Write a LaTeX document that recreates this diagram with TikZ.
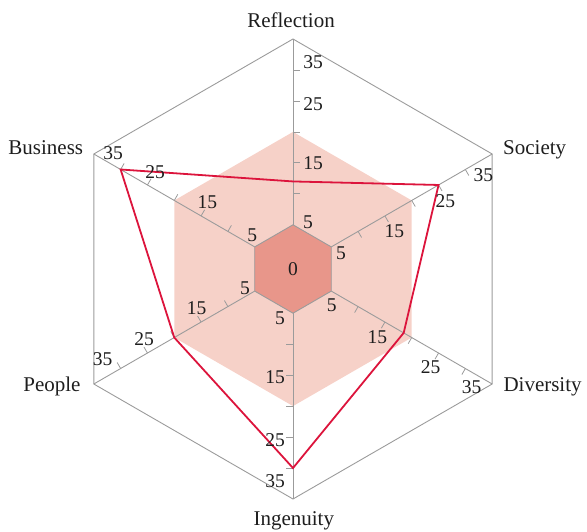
\documentclass[tikz,border=0pt]{standalone}
\usepackage{fontspec}
\setmainfont{Liberation Serif}
\usetikzlibrary{calc}
\definecolor{axisgray}{RGB}{155,155,155}
\definecolor{pinklight}{RGB}{246,209,200}
\definecolor{pinkdark}{RGB}{232,150,138}
\definecolor{datared}{RGB}{220,20,60}
\definecolor{textblack}{RGB}{30,30,30}
\begin{document}
\begin{tikzpicture}[x=1pt,y=1pt,
  axisline/.style={draw=axisgray,line width=0.9pt},
  tickmark/.style={draw=axisgray,line width=0.8pt},
  ticklabel/.style={inner sep=0pt,font=\fontsize{19.5}{19.5}\selectfont,text=textblack},
  axislabel/.style={inner sep=0pt,font=\fontsize{21}{21}\selectfont,text=textblack},
  datapoly/.style={draw=datared,line width=1.8pt,line join=miter}]
\useasboundingbox (0,0) rectangle (587,531);
\def\rv#1{44.2+6.193*(#1-5)}
\coordinate (C) at (293,262);
\foreach \n/\a in {R/90,S/30,D/-30,I/-90,P/-150,B/150} {
  \coordinate (o\n) at ($(C)+(\a:230)$);
  \coordinate (i\n) at ($(C)+(\a:44.2)$);
  \coordinate (p\n) at ($(C)+(\a:{\rv{20}})$);
}
% data points
\coordinate (dR) at ($(C)+(90:{\rv{12}})$);
\coordinate (dS) at ($(C)+(30:{\rv{25}})$);
\coordinate (dD) at ($(C)+(-30:{\rv{18.5}})$);
\coordinate (dI) at ($(C)+(-90:{\rv{30}})$);
\coordinate (dP) at ($(C)+(-150:{\rv{20}})$);
\coordinate (dB) at ($(C)+(150:{\rv{30}})$);
% light band
\fill[pinklight] (pR)--(pS)--(pD)--(pI)--(pP)--(pB)--cycle;
% outer hexagon
\draw[axisline] (oR)--(oS)--(oD)--(oI)--(oP)--(oB)--cycle;
% axes
\foreach \n in {R,S,D,I,P,B} \draw[axisline] (i\n)--(o\n);
% ticks
\foreach \a in {90,30,-30,-90,-150,150} {
  \foreach \v in {10,15,20,25,30} {
    \draw[tickmark] ($(C)+(\a:{\rv{\v}})$) -- ++({\a-90}:7);
  }
}
% inner hexagon
\draw[axisline,fill=pinkdark] (iR)--(iS)--(iD)--(iI)--(iP)--(iB)--cycle;
% data polygon
\draw[datapoly] (dR)--(dS)--(dD)--(dI)--(dP)--(dB)--cycle;
% center label
\node[ticklabel] (zero) at (293,262) {0};
% tick labels
\node[ticklabel] (r5) at (308,309) {5};
\node[ticklabel] (r15) at (313,368) {15};
\node[ticklabel] (r25) at (313,427) {25};
\node[ticklabel] (r35) at (313,469) {35};
\node[ticklabel] (s5) at (341,277.7) {5};
\node[ticklabel] (s15) at (394.3,300) {15};
\node[ticklabel] (s25) at (445.3,330.3) {25};
\node[ticklabel] (s35) at (483.3,356) {35};
\node[ticklabel] (dv5) at (331.7,226) {5};
\node[ticklabel] (dv15) at (377.3,193.7) {15};
\node[ticklabel] (dv25) at (430.7,163.7) {25};
\node[ticklabel] (dv35) at (471.7,144.3) {35};
\node[ticklabel] (g5) at (280,212.7) {5};
\node[ticklabel] (g15) at (275,154.3) {15};
\node[ticklabel] (g25) at (275,91) {25};
\node[ticklabel] (g35) at (275,50.3) {35};
\node[ticklabel] (pe5) at (245,242.7) {5};
\node[ticklabel] (pe15) at (196.7,222.7) {15};
\node[ticklabel] (pe25) at (144,192) {25};
\node[ticklabel] (pe35) at (102.7,171.7) {35};
\node[ticklabel] (b5) at (252.3,296) {5};
\node[ticklabel] (b15) at (207.3,329.3) {15};
\node[ticklabel] (b25) at (155,359.3) {25};
\node[ticklabel] (b35) at (113,378) {35};
% axis labels
\node[axislabel,anchor=base] (lR) at (291,503.7) {Reflection};
\node[axislabel,anchor=base west] (lS) at (503,376.7) {Society};
\node[axislabel,anchor=base west] (lD) at (503.3,139.3) {Diversity};
\node[axislabel,anchor=base] (lI) at (293.8,6) {Ingenuity};
\node[axislabel,anchor=base east] (lP) at (80.7,139.3) {People};
\node[axislabel,anchor=base east] (lB) at (83.3,376) {Business};
\end{tikzpicture}
\end{document}
